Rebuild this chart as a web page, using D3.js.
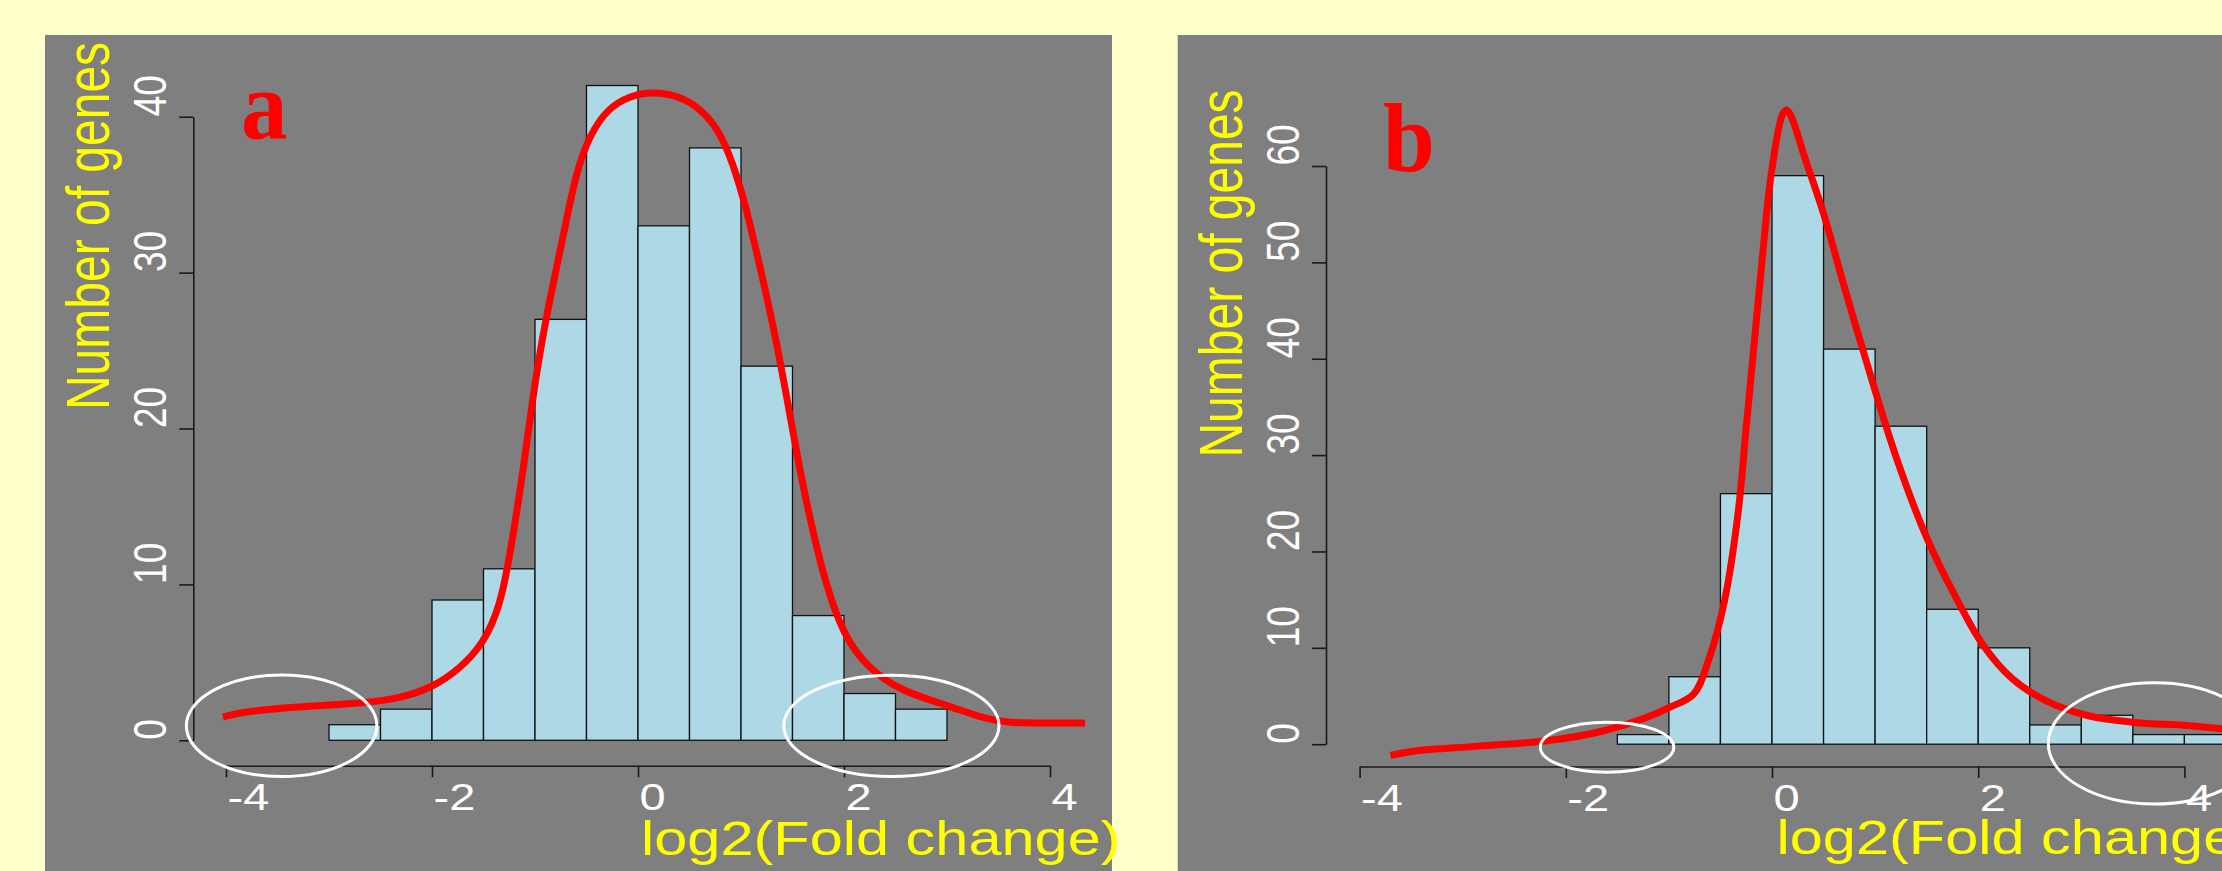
<!DOCTYPE html>
<html>
<head>
<meta charset="utf-8">
<script src="https://cdn.jsdelivr.net/npm/d3@7"></script>
<style>
  html, body { margin: 0; padding: 0; background: #FFFFCC; }
  svg { display: block; }
</style>
</head>
<body>
<div id="chart"></div>
<script>
// ---- data ----
var binWidth = 0.5;

// panel a: histogram of log2 fold change
var binStartA = -3;
var countsA = [1, 2, 9, 11, 27, 42, 33, 38, 24, 8, 3, 2];
var yTicksA = [0, 10, 20, 30, 40];

// panel b
var binStartB = -1.5;
var countsB = [1, 7, 26, 59, 41, 33, 14, 10, 2, 3, 1, 1];
var yTicksB = [0, 10, 20, 30, 40, 50, 60];

var xTicks = [-4, -2, 0, 2, 4];

// density curves (scaled to counts)
var densityA = [
  [-4.03, 1.5], [-3.77, 1.9], [-3.28, 2.15], [-2.63, 2.4], [-2.31, 2.7],
  [-1.99, 3.4], [-1.73, 4.6], [-1.5, 6.2], [-1.34, 8.6], [-1.25, 11.6],
  [-1.12, 17.0], [-0.99, 23.6], [-0.86, 28.2], [-0.73, 32.2], [-0.6, 36.5],
  [-0.47, 38.8], [-0.3, 40.5], [-0.08, 41.35], [0.14, 41.6], [0.4, 41.35],
  [0.61, 40.5], [0.79, 39.1], [0.92, 37.05], [1.05, 34.2], [1.18, 30.5],
  [1.31, 26.7], [1.44, 22.2], [1.57, 17.3], [1.7, 13.3], [1.83, 9.85],
  [2.0, 6.7], [2.22, 4.7], [2.56, 3.12], [3.0, 2.26], [3.35, 1.4],
  [3.6, 1.11], [3.95, 1.11], [4.34, 1.11]
];
var densityB = [
  [-3.70, -1.16], [-3.46, -0.7], [-2.84, -0.2], [-2.15, 0.4], [-1.64, 1.37],
  [-1.23, 2.72], [-0.99, 3.84], [-0.76, 5.2], [-0.62, 8.57], [-0.46, 14.9],
  [-0.33, 23.9], [-0.25, 32.9], [-0.17, 41.9], [-0.09, 50.9], [-0.01, 59.0],
  [0.10, 65.3], [0.14, 65.8], [0.18, 65.3], [0.32, 60.8], [0.49, 55.4],
  [0.73, 46.4], [0.98, 37.4], [1.22, 29.3], [1.51, 21.2], [1.80, 14.9],
  [2.04, 10.4], [2.33, 6.8], [2.66, 4.5], [3.07, 2.95], [3.52, 2.26],
  [4.01, 1.95], [4.37, 1.59]
];

// white ellipses marking the tails (data units)
var tailsA = [
  {cx: -3.46, cy: 0.93, rx: 0.925, ry: 3.26},
  {cx: 2.46, cy: 0.93, rx: 1.045, ry: 3.25}
];
var tailsB = [
  {cx: -1.60, cy: -0.31, rx: 0.647, ry: 2.6},
  {cx: 3.71, cy: 0.08, rx: 1.03, ry: 6.29}
];

var W = 2222, H = 871;
var FONT = "'Liberation Sans', Arial, Helvetica, sans-serif";
var STRETCH = 1.27;   // the picture is stretched sideways

var svg = d3.select("#chart").append("svg")
  .attr("width", W)
  .attr("height", H);

svg.append("rect")
  .attr("width", W).attr("height", H)
  .attr("fill", "#FFFFCC");

//draw one histogram panel
function drawPanel(p) {
  var g = svg.append("g");

  //gray background
  g.append("rect")
    .attr("x", p.box[0]).attr("y", p.box[1])
    .attr("width", p.box[2] - p.box[0]).attr("height", H - p.box[1])
    .attr("fill", "#7F7F7F");

  var x = d3.scaleLinear().domain([-4, 4]).range(p.xRange);
  var y = d3.scaleLinear().domain([0, p.yMax]).range(p.yRange);

  //bars
  g.append("g").selectAll("rect")
    .data(p.counts)
    .enter()
    .append("rect")
    .attr("x", function(d, i) { return x(p.binStart + i*binWidth); })
    .attr("y", function(d) { return y(d); })
    .attr("width", function(d, i) { return x(p.binStart + (i+1)*binWidth) - x(p.binStart + i*binWidth); })
    .attr("height", function(d) { return y(0) - y(d); })
    .attr("fill", "#ADD8E6")
    .attr("stroke", "#111")
    .attr("stroke-width", 1.3);

  //y axis
  var yAxis = g.append("g")
    .attr("transform", "translate(" + (x(-4) - p.yAxisGap) + ",0)")
    .call(d3.axisLeft(y).tickValues(p.yTicks).tickSize(14).tickSizeOuter(0)
      .tickFormat(function(d) { return String(d); }));

  //x axis
  var xAxis = g.append("g")
    .attr("transform", "translate(0," + (y(0) + p.xAxisGap) + ")")
    .call(d3.axisBottom(x).tickValues(xTicks).tickSize(11.5).tickSizeOuter(0)
      .tickFormat(function(d) { return String(d); }));

  [yAxis, xAxis].forEach(function(a) {
    a.attr("font-family", FONT).attr("font-size", 37).attr("text-anchor", "start");
    a.selectAll("path, line").attr("stroke", "#1a1a1a").attr("stroke-width", 1.6);
    a.selectAll("text").attr("fill", "#FFFFFF").attr("x", null).attr("y", null).attr("dy", null);
  });
  yAxis.selectAll("text")
    .attr("transform", "translate(-27,-1) rotate(-90) scale(1," + STRETCH + ")");
  xAxis.selectAll("text")
    .attr("transform", "translate(1,44.3) scale(" + STRETCH + ",1)");

  //density curve
  g.append("path")
    .datum(p.density)
    .attr("d", d3.line()
      .x(function(d) { return x(d[0]); })
      .y(function(d) { return y(d[1]); })
      .curve(p.curve))
    .attr("fill", "none")
    .attr("stroke", "#FF0000")
    .attr("stroke-width", 7)
    .attr("stroke-linejoin", "round");

  //tail ellipses
  g.append("g").selectAll("ellipse")
    .data(p.tails)
    .enter()
    .append("ellipse")
    .attr("cx", function(d) { return x(d.cx); })
    .attr("cy", function(d) { return y(d.cy); })
    .attr("rx", function(d) { return x(d.rx) - x(0); })
    .attr("ry", function(d) { return y(0) - y(d.ry); })
    .attr("fill", "none")
    .attr("stroke", "#FFFFFF")
    .attr("stroke-width", 3);

  //axis titles
  g.append("text")
    .attr("transform", "translate(" + p.yTitle[0] + "," + p.yTitle[1] + ") rotate(-90) scale(1," + STRETCH + ")")
    .attr("text-anchor", "middle")
    .attr("font-family", FONT)
    .attr("font-size", 48)
    .attr("fill", "#FFFF00")
    .text("Number of genes");

  g.append("text")
    .attr("transform", "translate(" + (x(0) + p.xTitle[0]) + "," + p.xTitle[1] + ") scale(1.24,1)")
    .attr("font-family", FONT)
    .attr("font-size", 48)
    .attr("fill", "#FFFF00")
    .text("log2(Fold change)");

  //panel letter
  g.append("text")
    .attr("transform", "translate(" + p.letterPos[0] + "," + p.letterPos[1] + ") scale(0.95,1)")
    .attr("font-family", "'Liberation Serif', 'Times New Roman', serif")
    .attr("font-weight", "bold")
    .attr("font-size", 98)
    .attr("fill", "#FF0000")
    .text(p.letter);
}

drawPanel({
  box: [45, 35, 1112],
  xRange: [226, 1050], yRange: [740.3, 116.7], yMax: 40,
  yAxisGap: 32.7, xAxisGap: 25.4,
  counts: countsA, binStart: binStartA, yTicks: yTicksA,
  density: densityA, curve: d3.curveBasis, tails: tailsA,
  yTitle: [109, 226], xTitle: [3, 855],
  letter: "a", letterPos: [241, 138]
});

drawPanel({
  box: [1177.7, 35, W],
  xRange: [1359.6, 2184.4], yRange: [744.2, 166], yMax: 60,
  yAxisGap: 33.6, xAxisGap: 22.3,
  counts: countsB, binStart: binStartB, yTicks: yTicksB,
  density: densityB, curve: d3.curveCatmullRom.alpha(0.5), tails: tailsB,
  yTitle: [1242, 273.5], xTitle: [4.5, 853.5],
  letter: "b", letterPos: [1383, 171]
});
</script>
</body>
</html>
